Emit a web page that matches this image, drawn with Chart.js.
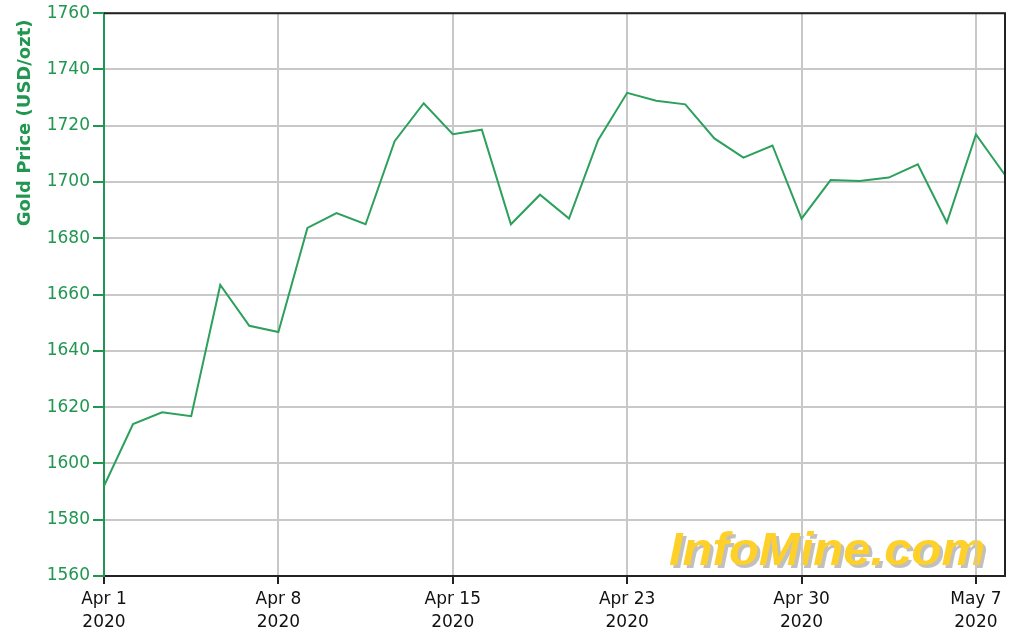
<!DOCTYPE html>
<html>
<head>
<meta charset="utf-8">
<script src="https://cdn.jsdelivr.net/npm/chart.js@4.4.1/dist/chart.umd.min.js"></script>
<style>
  body { margin: 0; background: #fff; }
  canvas { display: block; }
</style>
</head>
<body>
<canvas id="gold-chart" width="1014" height="638"></canvas>
<script>
// trading days shown on the chart
var dates = ['Apr 1','Apr 2','Apr 3','Apr 4','Apr 6','Apr 7','Apr 8','Apr 9','Apr 10','Apr 11','Apr 13','Apr 14',
             'Apr 15','Apr 16','Apr 17','Apr 20','Apr 21','Apr 22','Apr 23','Apr 24','Apr 25','Apr 27','Apr 28','Apr 29',
             'Apr 30','May 1','May 2','May 4','May 5','May 6','May 7','May 8'];
// gold price, USD/ozt
var prices = [1592, 1614, 1618.2, 1616.8, 1663.4, 1648.9, 1646.7, 1683.7, 1689, 1685, 1714.5, 1728,
              1717, 1718.6, 1685, 1695.5, 1687, 1714.9, 1731.7, 1728.9, 1727.6, 1715.5, 1708.7, 1713,
              1687, 1700.7, 1700.4, 1701.6, 1706.3, 1685.6, 1716.9, 1702.5];
var shownDates = ['Apr 1','Apr 8','Apr 15','Apr 23','Apr 30','May 7'];
var tickYear = '2020';

var green = 'rgb(32,150,80)';
var lineGreen = 'rgb(44,160,92)';
var gridGrey = 'rgb(200,200,200)';
var font = '"DejaVu Sans", Verdana, sans-serif';

function isShown(i) {
	return shownDates.indexOf(dates[i]) >= 0;
}

var watermark = {
	id: 'watermark',
	beforeDraw: function(chart) {
		var c = chart.ctx;
		var area = chart.chartArea;
		var text = 'InfoMine.com';
		c.save();
		c.font = 'italic bold 46px "Liberation Sans", Arial, sans-serif';
		var w = c.measureText(text).width;
		var x = area.right - 20 - 316;
		var y = area.bottom - 11;
		c.translate(x, y);
		c.scale(316 / w, 1);
		c.textBaseline = 'alphabetic';
		c.fillStyle = 'rgba(130,130,130,0.5)';
		c.fillText(text, 3, 3);
		c.fillStyle = 'rgb(255,208,40)';
		c.fillText(text, 0, 0);
		c.restore();
	}
};

var frame = {
	id: 'frame',
	afterDatasetsDraw: function(chart) {
		var c = chart.ctx;
		var a = chart.chartArea;
		c.save();
		c.strokeStyle = '#222';
		c.lineWidth = 2;
		c.beginPath();
		c.moveTo(a.left, a.top);
		c.lineTo(a.right, a.top);
		c.lineTo(a.right, a.bottom);
		c.stroke();
		c.restore();
	}
};

var ctx = document.getElementById('gold-chart');

var chart = new Chart(ctx, {
	type: 'line',
	data: {
		labels: dates,
		datasets: [
			{
				label: 'Gold Price',
				data: prices,
				borderColor: lineGreen,
				borderWidth: 2,
				pointRadius: 0,
				tension: 0,
				fill: false
			}
		]
	},
	options: {
		responsive: false,
		animation: false,
		layout: { padding: { top: 13, right: 9, left: 0, bottom: 0 } },
		plugins: {
			legend: { display: false },
			tooltip: { enabled: false }
		},
		scales: {
			x: {
				type: 'category',
				offset: false,
				border: { color: '#222', width: 2 },
				grid: {
					color: function(c) { return isShown(c.index) ? gridGrey : 'rgba(0,0,0,0)'; },
					tickColor: function(c) { return isShown(c.index) ? '#222' : 'rgba(0,0,0,0)'; },
					lineWidth: 2,
					tickLength: 8
				},
				ticks: {
					autoSkip: false,
					maxRotation: 0,
					color: '#111',
					padding: 4,
					font: { family: font, size: 17, lineHeight: 1.35 },
					callback: function(val, i) {
						return isShown(i) ? [dates[i], tickYear] : '';
					}
				},
				afterFit: function(axis) { axis.height = 62; }
			},
			y: {
				min: 1560,
				max: 1760,
				border: { color: green, width: 2 },
				grid: {
					color: gridGrey,
					lineWidth: 2,
					tickColor: green,
					tickLength: 11
				},
				ticks: {
					stepSize: 20,
					color: green,
					padding: 3,
					font: { family: font, size: 17 },
					callback: function(v) { return String(v); }
				},
				title: {
					display: true,
					text: 'Gold Price (USD/ozt) ',
					align: 'end',
					color: green,
					padding: { top: 15, bottom: 0 },
					font: { family: font, size: 18, weight: 'bold' }
				},
				afterFit: function(axis) { axis.width = 104; }
			}
		}
	},
	plugins: [watermark, frame]
});
</script>
</body>
</html>
